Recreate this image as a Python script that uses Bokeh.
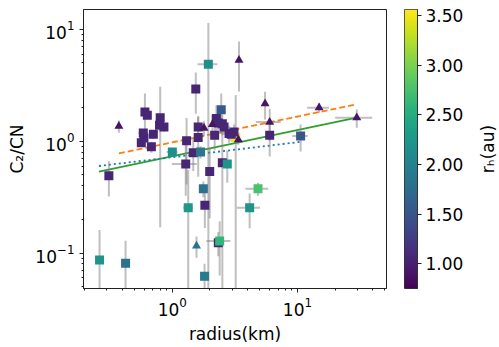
import numpy as np
from bokeh.plotting import figure
from bokeh.models import (LinearColorMapper, FixedTicker, ColumnDataSource,
                          PrintfTickFormatter)
from bokeh.layouts import row
from bokeh.transform import transform
from bokeh.palettes import Viridis256
from bokeh.embed import file_html
from bokeh.resources import INLINE

# ---- data ----
radius = [0.374, 1.94, 1.54, 0.604, 0.631, 0.80, 0.79, 0.857, 0.586, 0.593,
          0.565, 0.705, 0.68, 1.30, 1.61, 1.61, 1.79, 2.25, 2.18, 2.46,
          1.0, 1.47, 1.68, 3.41, 5.51, 14.9, 29.8, 6.0, 6.0, 10.6,
          3.21, 3.37, 2.33, 2.51, 2.09, 2.59, 2.84, 2.96, 3.11, 0.311,
          0.262, 0.423, 1.28, 1.99, 2.51, 2.75, 1.77, 1.34, 1.82, 1.56,
          1.81, 4.84, 4.15, 2.33, 2.39]
ratio = [1.36, 4.87, 2.93, 1.82, 1.70, 1.62, 1.39, 1.34, 1.18, 1.07,
         0.966, 1.15, 0.89, 1.01, 1.08, 1.34, 1.31, 1.59, 1.13, 1.91,
         0.80, 0.79, 0.80, 5.28, 2.16, 1.99, 1.62, 1.48, 1.13, 1.11,
         1.08, 1.03, 1.45, 1.43, 1.41, 1.34, 1.17, 1.15, 1.21, 0.49,
         0.0867, 0.081, 0.626, 0.535, 0.643, 0.626, 0.376, 0.254, 0.268, 0.116,
         0.0622, 0.376, 0.254, 0.124, 0.128]
rh = [0.9, 2.15, 1.05, 1.05, 1.05, 1.05, 1.05, 1.05, 1.05, 1.05,
      1.05, 1.05, 1.05, 1.05, 1.05, 1.05, 0.9, 1.05, 1.05, 1.55,
      2.15, 1.05, 1.85, 0.9, 0.9, 0.9, 0.9, 0.9, 1.05, 1.5,
      3.5, 0.9, 1.05, 1.05, 0.9, 1.05, 1.05, 1.05, 1.05, 1.05,
      2.2, 1.8, 1.05, 1.05, 1.05, 2.2, 1.8, 2.25, 1.05, 1.8,
      1.9, 2.75, 2.2, 1.05, 2.6]
shape = ["triangle", "square", "square", "square", "square", "square", "square", "square", "square", "square",
         "square", "square", "square", "square", "square", "square", "triangle", "square", "square", "square",
         "square", "square", "square", "triangle", "triangle", "triangle", "triangle", "triangle", "square", "square",
         "square", "triangle", "square", "square", "triangle", "square", "square", "square", "square", "square",
         "square", "square", "square", "square", "square", "square", "square", "square", "square", "triangle",
         "square", "square", "square", "square", "square"]
radius_err = [0, 0.35, 0, 0, 0, 0, 0, 0, 0.05, 0,
              0, 0, 0, 0, 0, 0, 0, 0, 0, 0,
              0.1, 0, 0, 0, 0, 2.95, 9.8, 1.35, 0, 1.5,
              0, 0, 0, 0, 0, 0, 0, 0, 0, 0,
              0, 0, 0.29, 0, 0, 0, 0, 0.12, 0, 0,
              0, 1.0, 0.87, 0, 0.52]
ratio_err = [0.17, 6.5, 1.17, 0.84, 0.1, 1.45, 0.1, 0.12, 0.1, 0.08,
             0.08, 0.1, 0.1, 0.6, 0.6, 0.3, 0.2, 0.5, 0.3, 0.75,
             0.05, 0.25, 0.1, 2.5, 0.6, 0.2, 0.3, 0.47, 0.4, 0.3,
             1.5, 0.1, 0.2, 0.3, 0.3, 0.2, 0.2, 0.15, 0.2, 0.17,
             0.074, 0.048, 0.3, 0.33, 0.7, 0.2, 0.06, 0.3, 0.1, 0.025,
             0.018, 0.05, 0.087, 0.03, 0.065]

# fitted trend lines (end points)
fit_orange_x = [0.374, 29.5]
fit_orange_y = [0.778, 2.13]
fit_green_x = [0.259, 29.8]
fit_green_y = [0.535, 1.62]
fit_blue_x = [0.259, 10.6]
fit_blue_y = [0.60, 0.986]

rh_low, rh_high = 0.75, 3.56
cbar_ticks = [1.0, 1.5, 2.0, 2.5, 3.0, 3.5]
x_ticks = [1, 10]
y_ticks = [0.1, 1, 10]

FONT = "DejaVu Sans"
FS = "17px"

x = np.array(radius)
y = np.array(ratio)
xe = np.array(radius_err)
ye = np.array(ratio_err)
src = ColumnDataSource(dict(
    x=x, y=y, rh=rh, marker=shape,
    y0=np.maximum(y - ye, 1e-4), y1=y + ye,
    x0=np.maximum(x - xe, 1e-4), x1=x + xe,
))

mapper = LinearColorMapper(palette=Viridis256, low=rh_low, high=rh_high)

p = figure(width=398, height=346, x_axis_type="log", y_axis_type="log",
           x_range=(0.195, 51.5), y_range=(0.0483, 15.0),
           output_backend="svg", toolbar_location=None,
           min_border_left=83, min_border_right=12, min_border_top=8, min_border_bottom=56)
p.grid.visible = False
p.outline_line_color = "#222222"
p.outline_line_width = 1

minor = [k * 10.0 ** e for e in range(-2, 3) for k in range(2, 10)]
p.xaxis.ticker = FixedTicker(ticks=x_ticks, minor_ticks=minor)
p.yaxis.ticker = FixedTicker(ticks=y_ticks, minor_ticks=minor)
for ax in (p.xaxis, p.yaxis):
    ax.major_label_text_font = FONT
    ax.major_label_text_font_size = FS
    ax.major_label_text_color = "black"
    ax.axis_label_text_font = FONT
    ax.axis_label_text_font_size = FS
    ax.axis_label_text_font_style = "normal"
    ax.axis_label_text_color = "black"
    ax.major_tick_in = 0
    ax.major_tick_out = 4
    ax.minor_tick_in = 0
    ax.minor_tick_out = 2
    ax.major_tick_line_color = "#222222"
    ax.minor_tick_line_color = "#222222"
    ax.axis_line_color = "#222222"
p.yaxis.major_label_standoff = 5
p.yaxis.axis_label_standoff = 5
p.xaxis.major_label_standoff = 4
p.xaxis.axis_label_standoff = 5
p.xaxis.axis_label = "radius(km)"
p.yaxis.axis_label = "C\u2082/CN"

# trend lines
p.line(fit_orange_x, fit_orange_y, line_color="#ff7f0e", line_width=1.8, line_dash="6 3")
p.line(fit_green_x, fit_green_y, line_color="#2ca02c", line_width=1.8)
p.line(fit_blue_x, fit_blue_y, line_color="#1f77b4", line_width=1.8, line_dash="2 3")

# error bars
p.segment(x0="x", y0="y0", x1="x", y1="y1", source=src, line_color="gray", line_alpha=0.5, line_width=2)
p.segment(x0="x0", y0="y", x1="x1", y1="y", source=src, line_color="gray", line_alpha=0.5, line_width=2)

# points
p.scatter("x", "y", source=src, marker="marker", size=9,
          fill_color=transform("rh", mapper), line_color=None)

# ---- colour bar as its own small figure ----
cb = figure(width=68, height=346, x_range=(0, 1), y_range=(rh_low, rh_high),
            output_backend="svg", toolbar_location=None, x_axis_location=None,
            y_axis_location="right",
            min_border_left=6, min_border_right=47, min_border_top=9, min_border_bottom=56)
cb.grid.visible = False
cb.image(image=[np.linspace(rh_low, rh_high, 256).reshape(256, 1)], x=0, y=rh_low,
         dw=1, dh=rh_high - rh_low, color_mapper=mapper)
cb.outline_line_color = "#333333"
cb.yaxis.ticker = FixedTicker(ticks=cbar_ticks)
cb.yaxis.formatter = PrintfTickFormatter(format="%.2f")
cb.yaxis.major_label_text_font = FONT
cb.yaxis.major_label_text_font_size = FS
cb.yaxis.major_label_text_color = "black"
cb.yaxis.major_tick_in = 0
cb.yaxis.major_tick_out = 4
cb.yaxis.minor_tick_line_color = None
cb.yaxis.major_tick_line_color = "#222222"
cb.yaxis.axis_line_color = "#333333"
cb.yaxis.major_label_standoff = 4

# ---- colour-bar title, as a left axis label of a tiny figure (reads bottom to top) ----
t = figure(width=32, height=346, x_range=(0, 1), y_range=(0, 1),
           output_backend="svg", toolbar_location=None, x_axis_location=None,
           y_axis_location="left",
           min_border_left=31, min_border_right=0, min_border_top=9, min_border_bottom=56)
t.grid.visible = False
t.outline_line_color = None
t.yaxis.ticker = FixedTicker(ticks=[])
t.yaxis.axis_line_color = None
t.yaxis.major_tick_line_color = None
t.yaxis.minor_tick_line_color = None
t.yaxis.axis_label = "r\u2095(au)"
t.yaxis.axis_label_text_font = FONT
t.yaxis.axis_label_text_font_size = FS
t.yaxis.axis_label_text_font_style = "normal"
t.yaxis.axis_label_text_color = "black"
t.yaxis.axis_label_standoff = 0

layout = row(p, cb, t)
open("out.html", "w").write(file_html(layout, INLINE))
